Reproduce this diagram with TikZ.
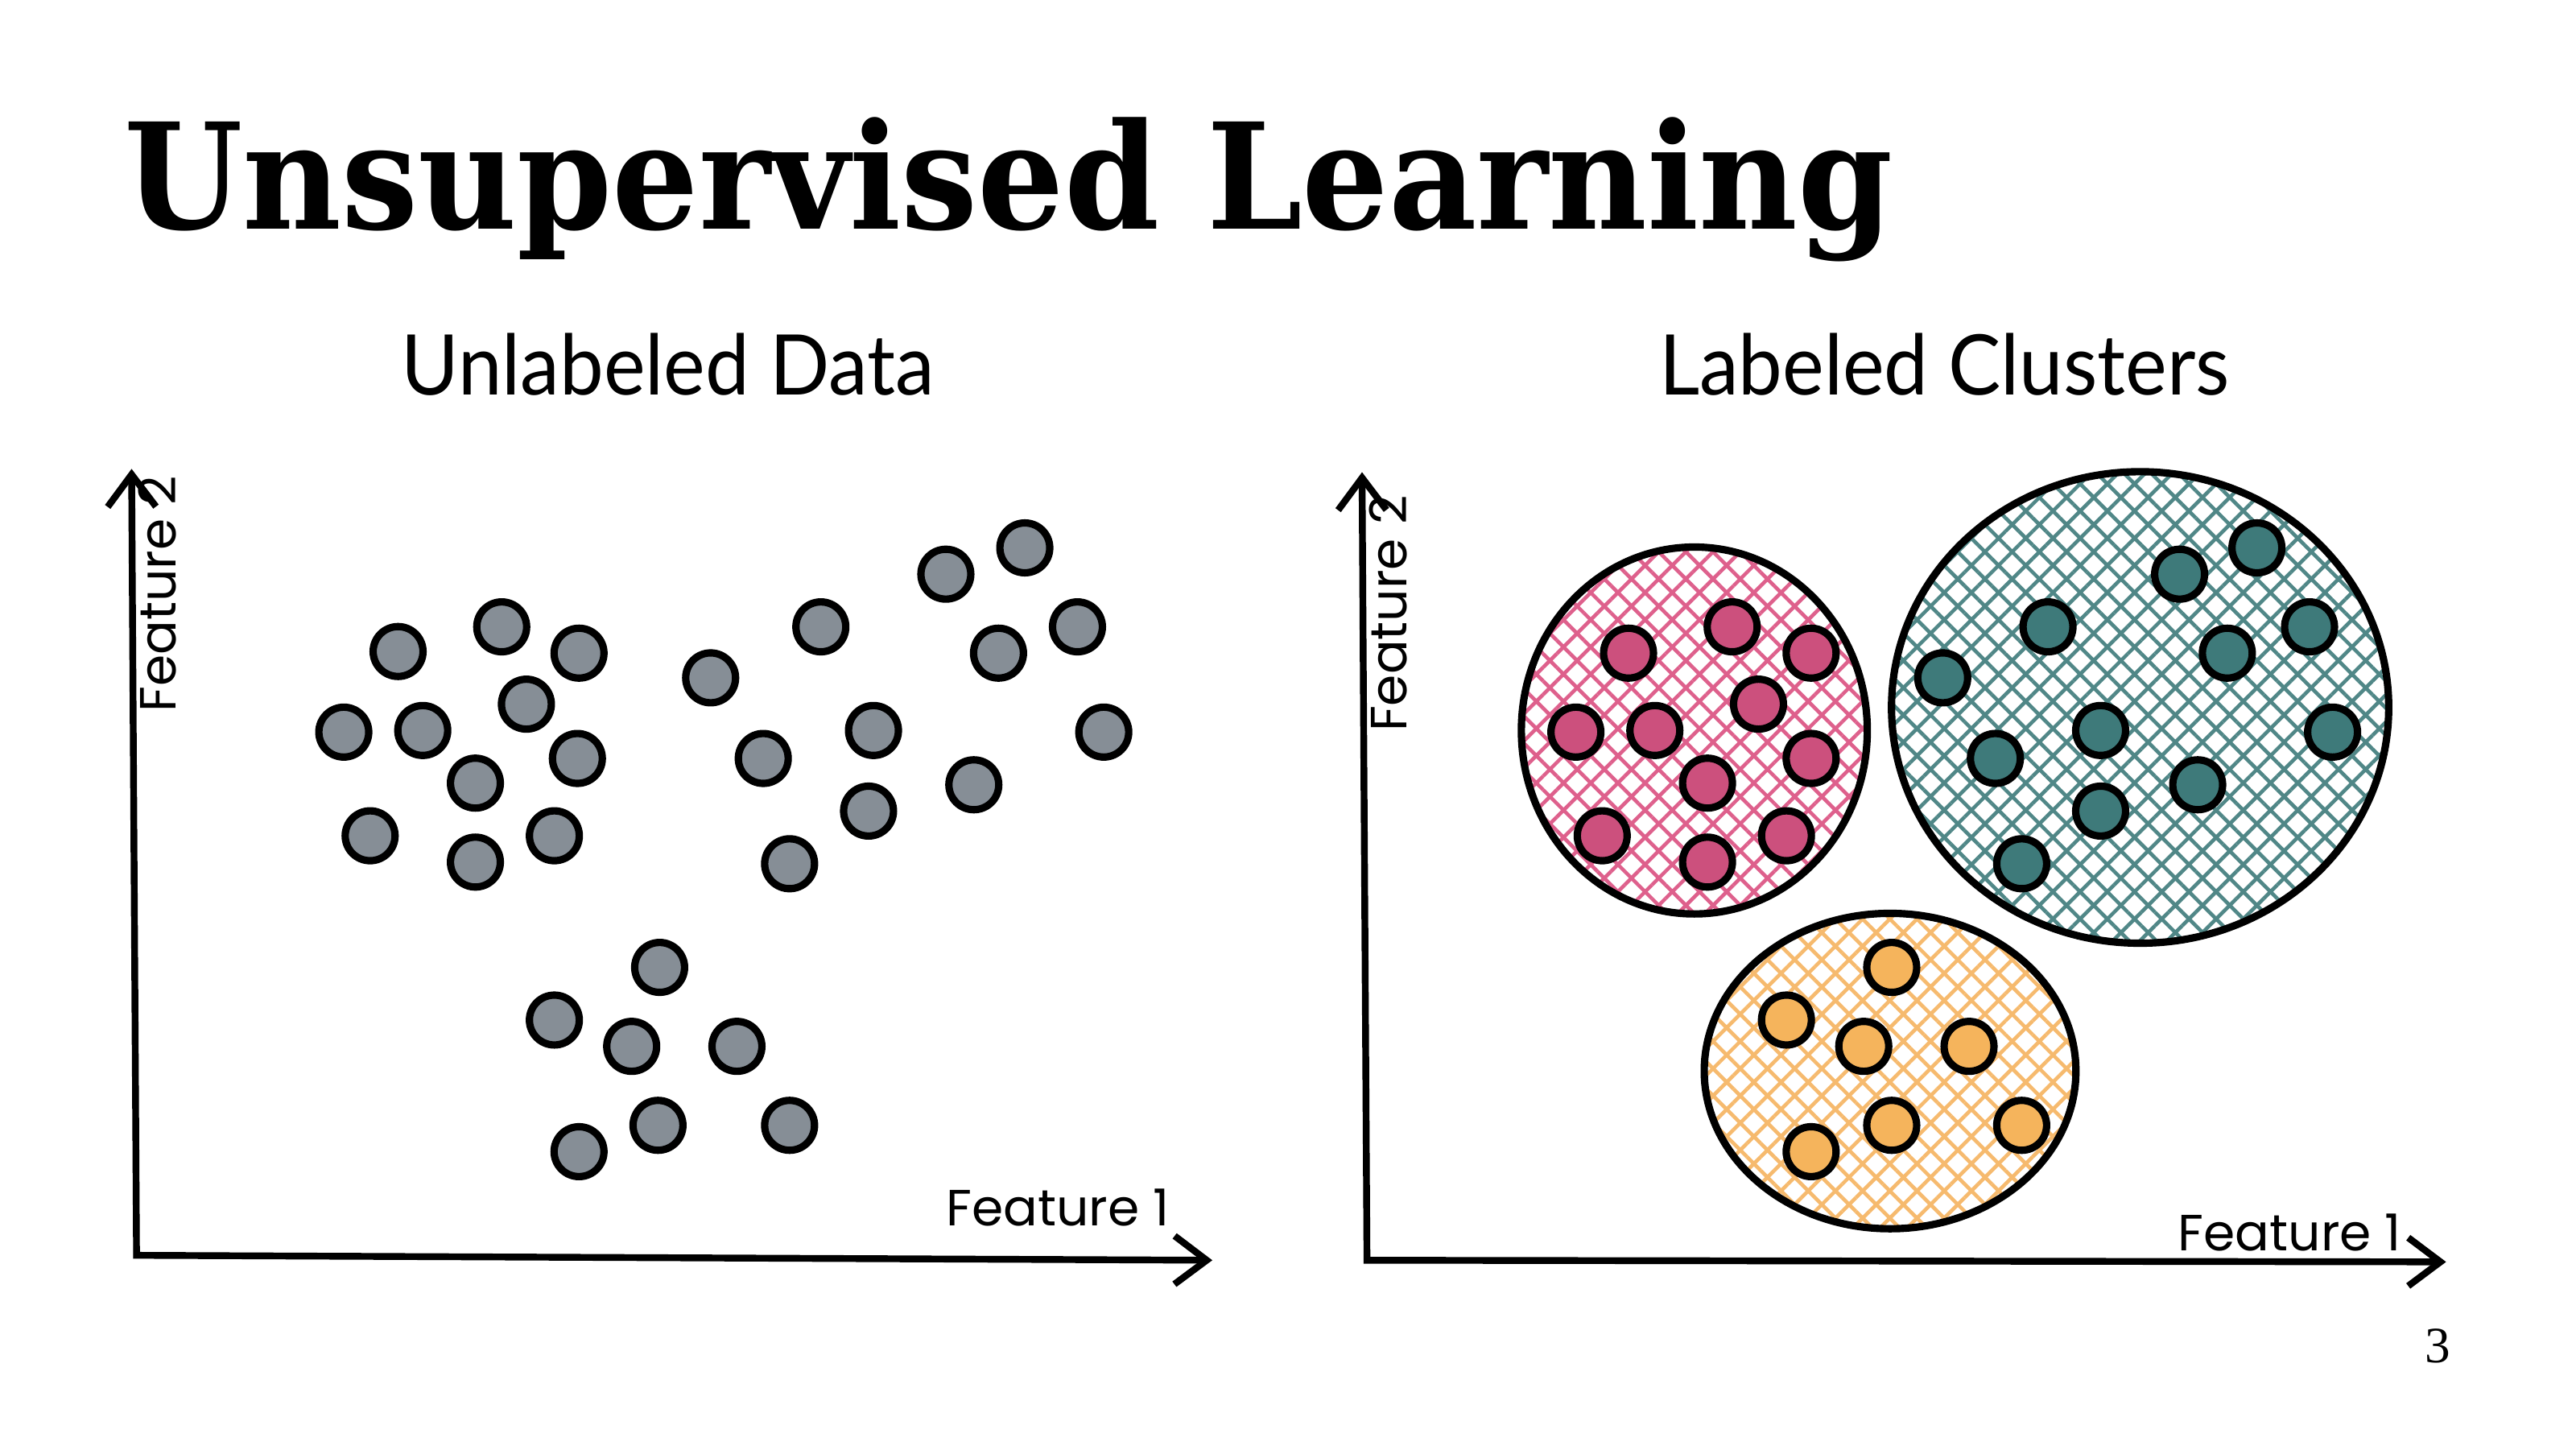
\documentclass[tikz,border=0pt]{standalone}
\usepackage{fontspec}
\setmainfont{Lato}
\newfontfamily\titlefont{DejaVu Serif}
\newfontfamily\handfont{Poppins}
\newfontfamily\pagefont{Liberation Serif}
\usetikzlibrary{arrows.meta,patterns.meta,shapes.geometric}

\definecolor{dotgray}{RGB}{134,142,150}
\definecolor{dotpink}{RGB}{204,80,125}
\definecolor{dotteal}{RGB}{62,122,122}
\definecolor{dotorange}{RGB}{245,180,92}
\definecolor{hatchpink}{RGB}{222,96,140}
\definecolor{hatchteal}{RGB}{80,135,135}
\definecolor{hatchorange}{RGB}{246,186,110}

\tikzset{
  datadot/.style={circle,draw=black,line width=1.3pt,fill=#1,minimum size=0.31cm,inner sep=0pt},
  axisline/.style={line width=1.2pt,{Straight Barb[length=0.2cm,width=0.3cm]}-{Straight Barb[length=0.2cm,width=0.3cm]}},
  cluster/.style={ellipse,draw=black,line width=1.3pt,inner sep=0pt,
    pattern={Hatch[angle=45,distance=3.4pt,line width=0.65pt]},pattern color=#1},
  featurelabel/.style={font=\handfont\small}
}

\begin{document}
\begin{tikzpicture}[x=0.010217cm,y=-0.010217cm]
  \useasboundingbox (0,0) rectangle (1566,880.9);

  \node [anchor=base west,inner sep=0pt] (title) at (75,139)
    {\titlefont\fontsize{26}{30}\selectfont\bfseries\scalebox{0.925}[1]{Unsupervised Learning}};
  \node [anchor=base,inner sep=0pt] (lefthead) at (406,240)
    {\fontsize{14.8}{18}\selectfont\scalebox{0.94}[1]{Unlabeled Data}};
  \node [anchor=base,inner sep=0pt] (righthead) at (1182,240)
    {\fontsize{14.8}{18}\selectfont\scalebox{0.94}[1]{Labeled Clusters}};
  \node [anchor=base,inner sep=0pt] (pagenum) at (1482,828) {\pagefont\small 3};

  % left plot
  \coordinate (lo) at (83,763);
  \coordinate (ly) at (80,285);
  \coordinate (lx) at (737,766);
  \draw [axisline] (ly) -- (lo) -- (lx);
  \node [featurelabel,anchor=base,inner sep=0pt] (lf1) at (643,745) {Feature 1};
  \node [featurelabel,anchor=base,inner sep=0pt,rotate=90] (lf2) at (107,361) {Feature 2};
  \foreach \x/\y [count=\i] in {242/396,305/381,352/397,320/428,209/445,257/444,
      351/461,289/476,225/508,289/524,337/508,
      432/412,499/381,575/349,623/333,655/381,607/397,464/461,531/444,
      671/445,592/477,528/493,480/525,
      401/588,337/620,384/636,448/636,352/700,400/684,480/684}
    \node [datadot=dotgray] (u\i) at (\x,\y) {};

  % right plot
  \coordinate (ro) at (831,766);
  \coordinate (ry) at (828,287);
  \coordinate (rx) at (1487,767);
  \draw [axisline] (ry) -- (ro) -- (rx);
  \node [featurelabel,anchor=base,inner sep=0pt] (rf1) at (1392,760) {Feature 1};
  \node [featurelabel,anchor=base,inner sep=0pt,rotate=90] (rf2) at (855,373) {Feature 2};

  \node [cluster=hatchpink,minimum width=2.15cm,minimum height=2.28cm] (pinkc) at (1030,444) {};
  \node [cluster=hatchteal,minimum width=3.09cm,minimum height=2.93cm] (tealc) at (1301,430) {};
  \node [cluster=hatchorange,minimum width=2.31cm,minimum height=1.96cm] (orangec) at (1149,651) {};

  \foreach \x/\y [count=\i] in {990/397,1053/381,1101/397,1069/428,958/445,1006/444,
      1101/461,1038/476,974/508,1038/524,1086/508}
    \node [datadot=dotpink] (p\i) at (\x,\y) {};
  \foreach \x/\y [count=\i] in {1181/412,1245/381,1325/349,1372/333,1404/381,1354/397,
      1213/461,1277/444,1418/445,1336/477,1277/493,1229/525}
    \node [datadot=dotteal] (t\i) at (\x,\y) {};
  \foreach \x/\y [count=\i] in {1150/588,1086/620,1133/636,1197/636,1101/700,1150/684,1229/684}
    \node [datadot=dotorange] (o\i) at (\x,\y) {};
\end{tikzpicture}
\end{document}
